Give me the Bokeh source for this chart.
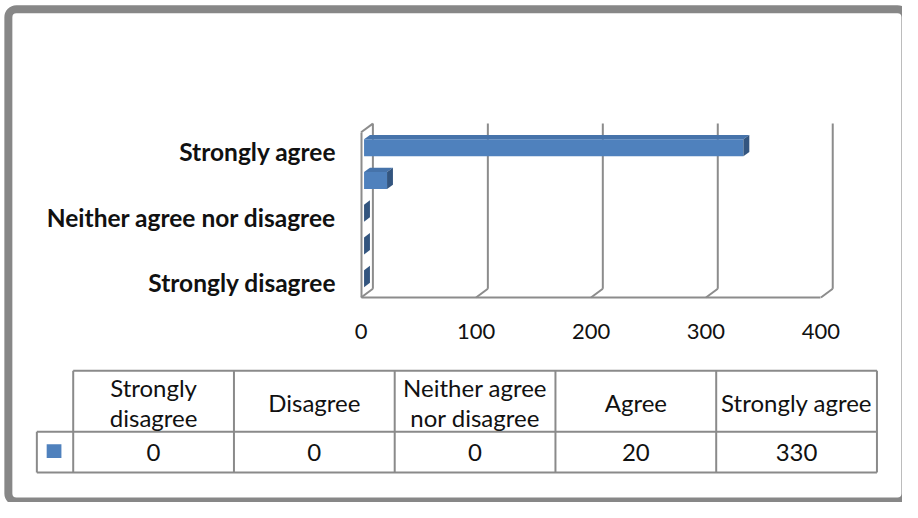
from bokeh.plotting import figure
from bokeh.models import Range1d, FixedTicker
from bokeh.core.properties import value
from bokeh.embed import file_html
from bokeh.resources import INLINE

# ---------------- data ----------------
categories = ["Strongly disagree", "Disagree", "Neither agree nor disagree", "Agree", "Strongly agree"]
counts = [0, 0, 0, 20, 330]
table_headers = ["Strongly\ndisagree", "Disagree", "Neither agree\nnor disagree", "Agree", "Strongly agree"]
x_ticks = [0, 100, 200, 300, 400]
shown_cat_labels = {0: "Strongly disagree", 2: "Neither agree nor disagree", 4: "Strongly agree"}

# ---------------- layout / style (reference-pixel geometry) ----------------
W, H = 902, 502
REF_W, REF_H = 918, 518
KX = 1.17          # ref px per value unit
KY = 33.75         # ref px per category step
X0 = 367           # ref px of value 0 (front plane)
Y0 = 291           # ref px of category 0
DDX = 12 / KX      # depth vector of the 3D box
DDY = 9 / KY
Y_LO = (Y0 - 306.5) / KY
Y_HI = (Y0 - 127) / KY - DDY
F0, F1 = 0.25, 0.75
C0 = 0.052
BAR_H = 0.52
FONT = "Lato"
GRID = "#8c8c8c"
FRONT, TOP, SIDE = "#4F81BD", "#4673AA", "#33557F"
TXT = "#111111"

p = figure(width=W, height=H, output_backend="svg", toolbar_location=None,
           x_range=Range1d(-X0 / KX, (REF_W - X0) / KX),
           y_range=Range1d((Y0 - REF_H) / KY, Y0 / KY),
           min_border=0, min_border_left=0, min_border_right=0,
           min_border_top=0, min_border_bottom=0)
p.extra_x_ranges = {"px": Range1d(0, REF_W)}
p.extra_y_ranges = {"px": Range1d(REF_H, 0)}
p.outline_line_color = None
p.background_fill_color = "white"
p.border_fill_color = "white"
p.grid.visible = False

# ---- axes ----
xa = p.xaxis[0]
xa.fixed_location = Y_LO
xa.bounds = (x_ticks[0], x_ticks[-1])
xa.ticker = FixedTicker(ticks=x_ticks)
xa.axis_line_color = GRID
xa.axis_line_width = 2
xa.major_tick_line_color = None
xa.major_tick_out = 0
xa.major_tick_in = 0
xa.minor_tick_line_color = None
xa.major_label_standoff = 26
xa.major_label_text_font = FONT
xa.major_label_text_font_size = "22px"
xa.major_label_text_color = TXT

ya = p.yaxis[0]
ya.fixed_location = 0
ya.bounds = (Y_LO, Y_HI)
ya.ticker = FixedTicker(ticks=list(shown_cat_labels.keys()))
ya.major_label_overrides = shown_cat_labels
ya.axis_line_color = GRID
ya.axis_line_width = 2
ya.major_tick_line_color = None
ya.major_tick_out = 0
ya.major_tick_in = 0
ya.minor_tick_line_color = None
ya.major_label_standoff = 25
ya.major_label_text_font = FONT
ya.major_label_text_font_size = "24.5px"
ya.major_label_text_font_style = "bold"
ya.major_label_text_color = TXT

# ---- 3D walls / gridlines ----
gx, gy = [], []
for t in x_ticks:
    gx.append([t + DDX, t + DDX]); gy.append([Y_LO + DDY, Y_HI + DDY])
    gx.append([t, t + DDX]); gy.append([Y_LO, Y_LO + DDY])
gx.append([0, DDX]); gy.append([Y_HI, Y_HI + DDY])
p.multi_line(gx, gy, line_color=GRID, line_width=2)

# ---- bars ----
fx, fy, tx, ty, sx, sy = [], [], [], [], [], []
for i, v in enumerate(counts):
    yc = i + C0
    yb0, yt0 = yc + F0 * DDY - BAR_H / 2, yc + F0 * DDY + BAR_H / 2
    yb1, yt1 = yc + F1 * DDY - BAR_H / 2, yc + F1 * DDY + BAR_H / 2
    xa0, xa1 = F0 * DDX, v + F0 * DDX
    xb0, xb1 = F1 * DDX, v + F1 * DDX
    if v > 0:
        fx.append([xa0, xa1, xa1, xa0]); fy.append([yb0, yb0, yt0, yt0])
        tx.append([xa0, xa1, xb1, xb0]); ty.append([yt0, yt0, yt1, yt1])
    sx.append([xa1, xa1, xb1, xb1]); sy.append([yb0, yt0, yt1, yb1])
p.patches(tx, ty, fill_color=TOP, line_color=None)
p.patches(fx, fy, fill_color=FRONT, line_color=None)
p.patches(sx, sy, fill_color=SIDE, line_color=None)

# ---- data table (reference pixel coordinates) ----
KEY_L = 37
COL_L = 74
COL_R = 892
COL_W = (COL_R - COL_L) / len(categories)
ROW_T, ROW_M, ROW_B = 382, 445, 487
TCOL = "#8a8a8a"
col_edges = [COL_L + k * COL_W for k in range(len(categories) + 1)]
lx = [[COL_L, COL_R], [KEY_L, COL_R], [KEY_L, COL_R], [KEY_L, KEY_L]]
ly = [[ROW_T, ROW_T], [ROW_M, ROW_M], [ROW_B, ROW_B], [ROW_M, ROW_B]]
for e in col_edges:
    lx.append([e, e]); ly.append([ROW_T, ROW_B])
p.multi_line(lx, ly, line_color=TCOL, line_width=2, x_range_name="px", y_range_name="px")

centers = [COL_L + (k + 0.5) * COL_W for k in range(len(categories))]
p.text(x=centers, y=[(ROW_T + ROW_M) / 2 + 1] * len(categories), text=table_headers,
       text_align="center", text_baseline="middle", text_font=value(FONT),
       text_font_size="24px", text_color=TXT, text_line_height=1.04,
       x_range_name="px", y_range_name="px")
p.text(x=centers, y=[(ROW_M + ROW_B) / 2] * len(categories), text=[str(c) for c in counts],
       text_align="center", text_baseline="middle", text_font=value(FONT),
       text_font_size="24px", text_color=TXT,
       x_range_name="px", y_range_name="px")
p.quad(left=[47], right=[62], top=[458], bottom=[472], fill_color=FRONT, line_color=None,
       x_range_name="px", y_range_name="px")

# ---- outer frame ----
p.quad(left=[8], right=[921], top=[9], bottom=[517], fill_color=None,
       line_color="#878787", line_width=8, border_radius=8,
       x_range_name="px", y_range_name="px")

open("out.html", "w").write(file_html(p, INLINE))
